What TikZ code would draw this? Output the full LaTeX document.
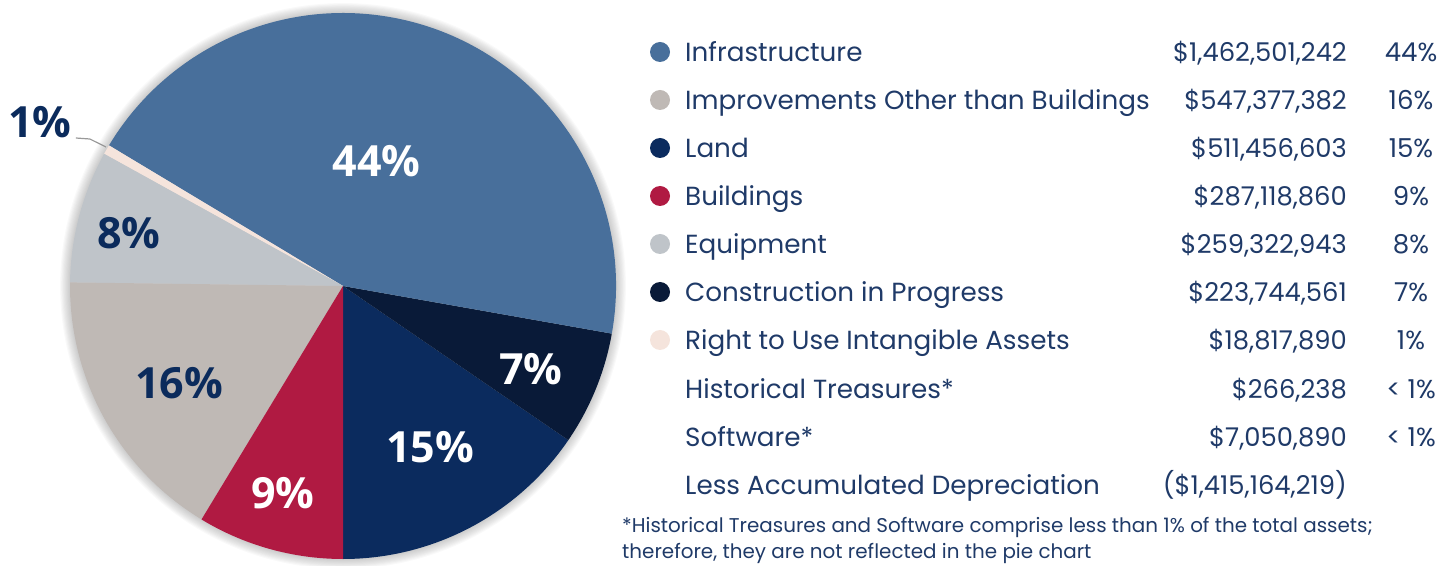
\documentclass[tikz,border=0pt]{standalone}
\usepackage{fontspec}
\setmainfont{Poppins}
\newfontfamily\lblfont{Open Sans}
\definecolor{cInfra}{RGB}{72,111,155}
\definecolor{cImpr}{RGB}{191,185,181}
\definecolor{cLand}{RGB}{11,43,94}
\definecolor{cBuild}{RGB}{176,26,66}
\definecolor{cEquip}{RGB}{191,196,201}
\definecolor{cCIP}{RGB}{9,26,56}
\definecolor{cRTU}{RGB}{245,228,220}
\definecolor{txtNavy}{RGB}{31,58,104}
\definecolor{lblNavy}{RGB}{11,43,92}
\tikzset{
  pielbl/.style={anchor=base, inner sep=0pt, font=\lblfont\bfseries\fontsize{43}{48}\selectfont},
  legtxt/.style={anchor=base west, inner sep=0pt, text=txtNavy, font=\fontsize{26.2}{32}\selectfont},
  legamt/.style={anchor=base east, inner sep=0pt, text=txtNavy, font=\fontsize{25.8}{32}\selectfont},
  legpct/.style={anchor=base, inner sep=0pt, text=txtNavy, font=\fontsize{26}{32}\selectfont},
  legdot/.style={circle, inner sep=0pt, minimum size=20pt},
  foot/.style={anchor=base west, inner sep=0pt, text=txtNavy, font=\fontsize{19.9}{26}\selectfont},
}
\newcommand{\pieslice}[3]{\fill[#3] (pc) -- ++(#1:273) arc[start angle=#1, end angle=#2, radius=273] -- cycle;}
\begin{document}
\begin{tikzpicture}[x=1pt,y=1pt]
\useasboundingbox (0,0) rectangle (1455,565);
\coordinate (pc) at (343,279);
% soft shadow
\foreach \i in {1,...,9} {\fill[black, opacity=0.022] (pc) circle ({273+\i*1.1});}
% slices (counterclockwise angles)
\pieslice{-90}{-34.379}{cLand}
\pieslice{-34.379}{-10.047}{cCIP}
\pieslice{-10.047}{149.0}{cInfra}
\pieslice{149.0}{151.046}{cRTU}
\pieslice{151.046}{179.247}{cEquip}
\pieslice{179.247}{238.774}{cImpr}
\pieslice{238.774}{270}{cBuild}
% labels
\node[pielbl, text=white] (l44) at (376.5,388) {44\%};
\node[pielbl, text=white] (l7) at (531,180) {7\%};
\node[pielbl, text=white] (l15) at (430,103) {15\%};
\node[pielbl, text=white] (l9) at (283,57) {9\%};
\node[pielbl, text=lblNavy] (l16) at (179,167) {16\%};
\node[pielbl, text=lblNavy] (l8) at (129,316) {8\%};
\node[pielbl, text=lblNavy] (l1) at (40,427) {1\%};
\coordinate (e1) at (106,418);
\draw[gray!80, line width=1.2pt] (l1.base east) ++(4,0) coordinate (s1) -- ++(14,-1) -- (e1);
% legend
\foreach \y/\col/\name/\amt/\pct [count=\k] in {
  62/cInfra/Infrastructure/{\$1,462,501,242}/44\%,
  110/cImpr/Improvements Other than Buildings/{\$547,377,382}/16\%,
  158/cLand/Land/{\$511,456,603}/15\%,
  206/cBuild/Buildings/{\$287,118,860}/9\%,
  254/cEquip/Equipment/{\$259,322,943}/8\%,
  302/cCIP/Construction in Progress/{\$223,744,561}/7\%,
  350/cRTU/Right to Use Intangible Assets/{\$18,817,890}/1\%} {
  \node[legdot, fill=\col] (d\k) at (660,{575-\y}) {};
  \node[legtxt] (t\k) at (685,{565-\y}) {\name};
  \node[legamt] (a\k) at (1347,{565-\y}) {\amt};
  \node[legpct] (p\k) at (1411,{565-\y}) {\pct};
}
\node[legtxt] (t8) at (685,167) {Historical Treasures*};
\node[legamt] (a8) at (1347,167) {\$266,238};
\node[legpct] (p8) at (1411,167) {< 1\%};
\node[legtxt] (t9) at (685,119) {Software*};
\node[legamt] (a9) at (1347,119) {\$7,050,890};
\node[legpct] (p9) at (1411,119) {< 1\%};
\node[legtxt] (t10) at (685,71) {Less Accumulated Depreciation};
\node[legamt] (a10) at (1347,71) {(\$1,415,164,219)};
\node[foot] (f1) at (622,32.3) {*Historical Treasures and Software comprise less than 1\% of the total assets;};
\node[foot] (f2) at (622,7) {therefore, they are not reflected in the pie chart};
\end{tikzpicture}
\end{document}
